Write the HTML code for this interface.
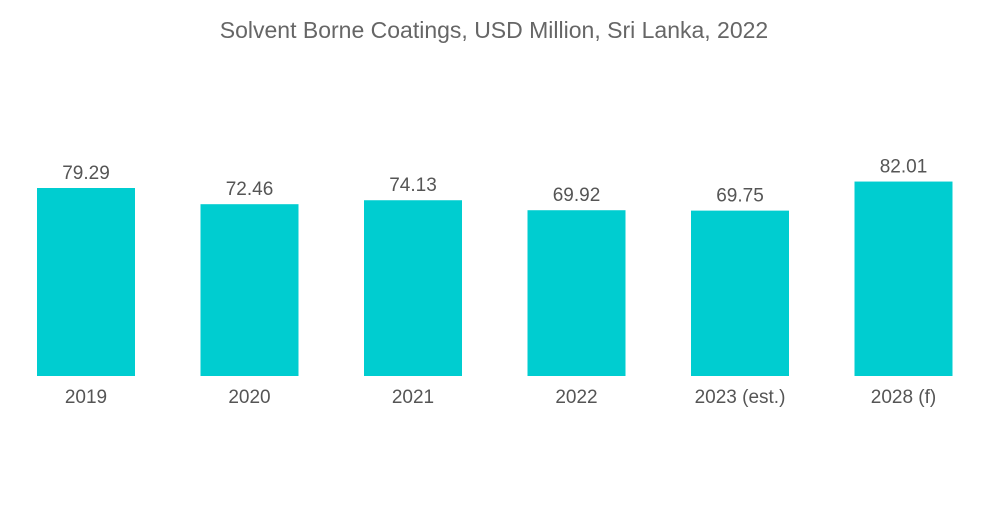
<!DOCTYPE html>
<html>
<head>
<meta charset="utf-8">
<style>
  html, body { margin: 0; padding: 0; background: #fff; }
  body { width: 1000px; height: 504px; overflow: hidden; font-family: "Liberation Sans", sans-serif; }
  svg text { font-family: "Liberation Sans", sans-serif; }
</style>
</head>
<body>
<svg id="chart" width="1000" height="504" viewBox="0 0 1000 504">
  <text x="494" y="38" text-anchor="middle" font-size="23" fill="#666">Solvent Borne Coatings, USD Million, Sri Lanka, 2022</text>
  <g id="bars"></g>
</svg>
<script>
const categories = ["2019", "2020", "2021", "2022", "2023 (est.)", "2028 (f)"];
const values = [79.29, 72.46, 74.13, 69.92, 69.75, 82.01];
const valueLabels = ["79.29", "72.46", "74.13", "69.92", "69.75", "82.01"];

const baseY = 376;
const pxPerUnit = 2.371;
const firstX = 37;
const step = 163.5;
const barW = 98;

function yScale(v) { return baseY - v * pxPerUnit; }
function xScale(i) { return firstX + i * step; }

const ns = "http://www.w3.org/2000/svg";
const g = document.getElementById("bars");
categories.forEach((c, i) => {
  const x = xScale(i);
  const y = yScale(values[i]);
  const r = document.createElementNS(ns, "rect");
  r.setAttribute("x", x);
  r.setAttribute("y", y);
  r.setAttribute("width", barW);
  r.setAttribute("height", baseY - y);
  r.setAttribute("fill", "#00CDD0");
  
  
  g.appendChild(r);

  const t = document.createElementNS(ns, "text");
  t.setAttribute("x", x + barW / 2);
  t.setAttribute("y", y - 9);
  t.setAttribute("text-anchor", "middle");
  t.setAttribute("font-size", "19");
  t.setAttribute("fill", "#555");
  t.textContent = valueLabels[i];
  
  
  g.appendChild(t);

  const l = document.createElementNS(ns, "text");
  l.setAttribute("x", x + barW / 2);
  l.setAttribute("y", 403);
  l.setAttribute("text-anchor", "middle");
  l.setAttribute("font-size", "19");
  l.setAttribute("fill", "#555");
  l.textContent = c;
  
  
  g.appendChild(l);
});
</script>
</body>
</html>
